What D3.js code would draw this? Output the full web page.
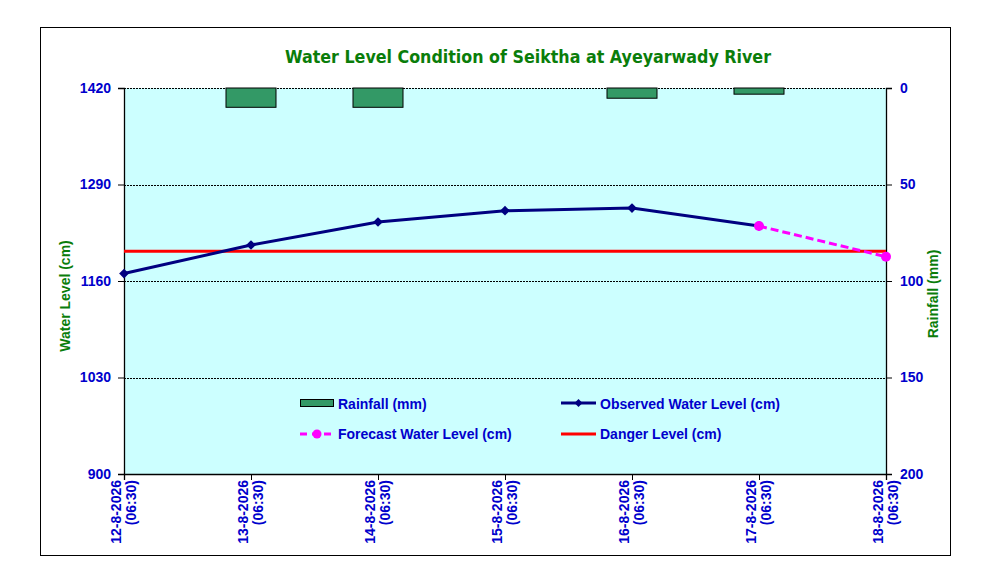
<!DOCTYPE html>
<html>
<head>
<meta charset="utf-8">
<script src="https://cdn.jsdelivr.net/npm/d3@7"></script>
<style>
  body { margin: 0; background: #fff; }
  svg text { font-family: "Liberation Sans", Arial, sans-serif; font-weight: bold; }
</style>
</head>
<body>
<div class="chart"></div>
<script>
// data
const dates = ['12-8-2026', '13-8-2026', '14-8-2026', '15-8-2026', '16-8-2026', '17-8-2026', '18-8-2026'];
const timeLabel = '(06:30)';
const rainfall = [0, 10, 10, 0, 5.3, 3.2, 0];
const observed = [1170, 1208.5, 1239.5, 1254.7, 1258.3, 1234, null];
const forecast = [null, null, null, null, null, 1234, 1192.7];
const dangerLevel = 1200;
const levelTicks = [900, 1030, 1160, 1290, 1420];
const rainTicks = [0, 50, 100, 150, 200];

function draw() {
  const svg = d3.select('.chart')
    .append('svg')
    .attr('width', 988)
    .attr('height', 581);

  const plot = { left: 124, right: 886, top: 88, bottom: 474 };
  const blue = '#0000cc';
  const green = '#0a7d0a';

  // outer frame
  svg.append('rect')
    .attr('x', 40.5).attr('y', 27.5)
    .attr('width', 910).attr('height', 528)
    .style('fill', '#fff')
    .style('stroke', '#000')
    .style('stroke-width', 1);

  const x = d3.scalePoint().domain(dates).range([plot.left, plot.right]);
  const yL = d3.scaleLinear().domain([900, 1420]).range([plot.bottom, plot.top]);
  const yR = d3.scaleLinear().domain([0, 200]).range([plot.top, plot.bottom]);

  // plot background
  svg.append('rect')
    .attr('x', plot.left).attr('y', plot.top)
    .attr('width', plot.right - plot.left)
    .attr('height', plot.bottom - plot.top)
    .style('fill', '#ccffff');

  // dashed gridlines
  svg.append('g')
    .selectAll('line')
    .data(levelTicks.filter(d => d !== 900))
    .join('line')
    .attr('x1', plot.left).attr('x2', plot.right)
    .attr('y1', d => Math.round(yL(d)) + 0.5)
    .attr('y2', d => Math.round(yL(d)) + 0.5)
    .style('stroke', '#000')
    .style('stroke-width', 1)
    .style('stroke-dasharray', '2,1');

  // rainfall bars hanging from the top
  const barW = 50;
  svg.append('g')
    .selectAll('rect')
    .data(dates.map((d, i) => ({ date: d, v: rainfall[i] })).filter(d => d.v > 0))
    .join('rect')
    .attr('x', d => x(d.date) - barW / 2)
    .attr('y', yR(0))
    .attr('width', barW)
    .attr('height', d => yR(d.v) - yR(0))
    .style('fill', '#339966')
    .style('stroke', '#000')
    .style('stroke-width', 1);

  // axes
  const leftAxis = svg.append('g')
    .attr('transform', `translate(${plot.left},0)`)
    .call(d3.axisLeft(yL).tickValues(levelTicks).tickSize(6).tickPadding(7).tickFormat(d3.format('d')));
  const rightAxis = svg.append('g')
    .attr('transform', `translate(${plot.right},0)`)
    .call(d3.axisRight(yR).tickValues(rainTicks).tickSize(6).tickPadding(8));
  const bottomAxis = svg.append('g')
    .attr('transform', `translate(0,${plot.bottom})`)
    .call(d3.axisBottom(x).tickSize(6).tickFormat(''));

  [leftAxis, rightAxis, bottomAxis].forEach(a => {
    a.select('.domain').style('stroke', '#000').style('stroke-width', 1.3);
    a.selectAll('.tick line').style('stroke', '#000');
    a.selectAll('.tick text')
      .style('fill', blue)
      .style('font-size', '14px')
      .style('font-family', '"Liberation Sans", Arial, sans-serif')
      .style('font-weight', 'bold');
  });

  // rotated date labels
  const dl = svg.append('g')
    .selectAll('text')
    .data(dates)
    .join('text')
    .attr('transform', d => `translate(${x(d) - 3},${plot.bottom + 6}) rotate(-90)`)
    .attr('text-anchor', 'end')
    .style('fill', blue)
    .style('font-size', '14px');
  dl.append('tspan').attr('x', 0).attr('dy', 0).text(d => d);
  dl.append('tspan').attr('x', 0).attr('dy', 15).text(timeLabel);

  // danger level
  svg.append('line')
    .attr('x1', plot.left).attr('x2', plot.right)
    .attr('y1', yL(dangerLevel)).attr('y2', yL(dangerLevel))
    .style('stroke', '#ff0000')
    .style('stroke-width', 3);

  // observed water level
  const line = d3.line()
    .defined(d => d.v !== null)
    .x(d => x(d.date))
    .y(d => yL(d.v));
  const obsData = dates.map((d, i) => ({ date: d, v: observed[i] }));
  const fcData = dates.map((d, i) => ({ date: d, v: forecast[i] }));

  svg.append('path')
    .datum(obsData)
    .attr('d', line)
    .style('fill', 'none')
    .style('stroke', '#000080')
    .style('stroke-width', 3);
  svg.append('g')
    .selectAll('path')
    .data(obsData.filter(d => d.v !== null))
    .join('path')
    .attr('transform', d => `translate(${x(d.date)},${yL(d.v)})`)
    .attr('d', d3.symbol(d3.symbolDiamond2, 60))
    .style('fill', '#000080');

  // forecast
  svg.append('path')
    .datum(fcData)
    .attr('d', line)
    .style('fill', 'none')
    .style('stroke', '#ff00ff')
    .style('stroke-width', 3)
    .style('stroke-dasharray', '8,4');
  svg.append('g')
    .selectAll('circle')
    .data(fcData.filter(d => d.v !== null))
    .join('circle')
    .attr('cx', d => x(d.date))
    .attr('cy', d => yL(d.v))
    .attr('r', 5)
    .style('fill', '#ff00ff');

  // title
  svg.append('text')
    .attr('x', 528).attr('y', 63)
    .attr('text-anchor', 'middle')
    .attr('textLength', 486)
    .attr('lengthAdjust', 'spacingAndGlyphs')
    .style('fill', green)
    .style('font-family', '"DejaVu Sans", Verdana, sans-serif')
    .style('font-size', '18px')
    .text('Water Level Condition of Seiktha at Ayeyarwady River');

  // axis titles
  svg.append('text')
    .attr('transform', 'translate(70,296) rotate(-90)')
    .attr('text-anchor', 'middle')
    .style('fill', green)
    .style('font-size', '14px')
    .text('Water Level (cm)');
  svg.append('text')
    .attr('transform', 'translate(938,294) rotate(-90)')
    .attr('text-anchor', 'middle')
    .style('fill', green)
    .style('font-size', '14px')
    .text('Rainfall (mm)');

  // legend
  const lg = svg.append('g');
  lg.append('rect')
    .attr('x', 300.5).attr('y', 399.5).attr('width', 33).attr('height', 7)
    .style('fill', '#339966').style('stroke', '#000');
  lg.append('text').attr('x', 338).attr('y', 409).style('fill', blue).style('font-size', '14px').text('Rainfall (mm)');

  lg.append('line').attr('x1', 561).attr('x2', 596).attr('y1', 403).attr('y2', 403)
    .style('stroke', '#000080').style('stroke-width', 3);
  lg.append('path').attr('transform', 'translate(578.5,403)')
    .attr('d', d3.symbol(d3.symbolDiamond2, 40))
    .style('fill', '#000080');
  lg.append('text').attr('x', 600).attr('y', 409).style('fill', blue).style('font-size', '14px').text('Observed Water Level (cm)');

  lg.append('line').attr('x1', 300).attr('x2', 334).attr('y1', 434).attr('y2', 434)
    .style('stroke', '#ff00ff').style('stroke-width', 3).style('stroke-dasharray', '7,5');
  lg.append('circle').attr('cx', 317).attr('cy', 434).attr('r', 4.5).style('fill', '#ff00ff');
  lg.append('text').attr('x', 338).attr('y', 439).style('fill', blue).style('font-size', '14px').text('Forecast Water Level (cm)');

  lg.append('line').attr('x1', 561).attr('x2', 596).attr('y1', 434).attr('y2', 434)
    .style('stroke', '#ff0000').style('stroke-width', 3);
  lg.append('text').attr('x', 600).attr('y', 439).style('fill', blue).style('font-size', '14px').text('Danger Level (cm)');
}

draw();
</script>
</body>
</html>
